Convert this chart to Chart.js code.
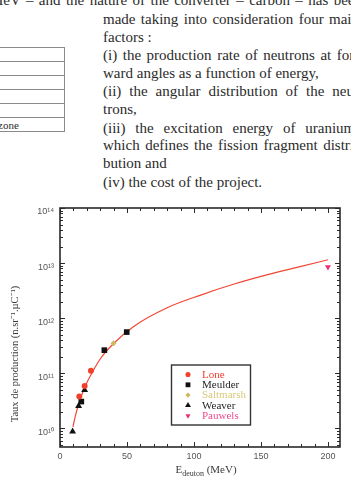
<!DOCTYPE html>
<html>
<head>
<meta charset="utf-8">
<script src="https://cdn.jsdelivr.net/npm/chart.js@4.4.0/dist/chart.umd.min.js"></script>
<style>
html, body { margin: 0; padding: 0; background: #fff; }
body { width: 351px; height: 479px; position: relative; overflow: hidden; font-family: 'Liberation Serif', serif; color: #2b2b2b; }
.ln { position: absolute; left: 103px; font-size: 15px; line-height: 18px; white-space: nowrap; }
.j { width: 256px; height: 18px; overflow: hidden; white-space: normal; text-align: justify; text-align-last: justify; }
#tbl { position: absolute; left: -3px; top: 47px; width: 68px; border-collapse: collapse; }
#tbl td { border: 1px solid #8a8a8a; height: 13px; padding: 0; font-size: 11px; line-height: 12px; }
#chartBox { position: absolute; left: 0; top: 195px; width: 351px; height: 284px; }
</style>
</head>
<body>
<div class="ln j" style="left:-10px; top:-9px; width:372px;">MeV – and the nature of the converter – carbon – has been</div>
<div class="ln j" style="top:10px;">made taking into consideration four main</div>
<div class="ln" style="top:28px;">factors :</div>
<div class="ln j" style="top:46px;">(i) the production rate of neutrons at for-</div>
<div class="ln" style="top:64px;">ward angles as a function of energy,</div>
<div class="ln j" style="top:82px;">(ii) the angular distribution of the neu-</div>
<div class="ln" style="top:100px;">trons,</div>
<div class="ln j" style="top:119px;">(iii) the excitation energy of uranium,</div>
<div class="ln j" style="top:136px;">which defines the fission fragment distri-</div>
<div class="ln" style="top:154px;">bution and</div>
<div class="ln" style="top:173px;">(iv) the cost of the project.</div>

<table id="tbl">
  <tr><td></td></tr>
  <tr><td></td></tr>
  <tr><td></td></tr>
  <tr><td></td></tr>
  <tr><td></td></tr>
  <tr><td>zone</td></tr>
</table>

<div id="chartBox"><canvas id="prodChart" width="351" height="284"></canvas></div>

<script>
// Neutron production rate vs deuteron energy

// Lone
const loneE = [14.4, 18.4, 23.1];
const loneRate = [3.8e10, 5.9e10, 1.11e11];
// Meulder
const meulderE = [15.9, 33.1, 49.8];
const meulderRate = [3.07e10, 2.63e11, 5.6e11];
// Saltmarsh
const saltE = [40.0];
const saltRate = [3.5e11];
// Weaver
const weaverE = [9.4, 13.9, 18.4];
const weaverRate = [8.8e9, 2.56e10, 5.0e10];
// Pauwels
const pauwelsE = [200];
const pauwelsRate = [8.5e12];

// fitted curve
const fitE = [9.7, 11.4, 15.1, 18.9, 23.9, 30, 40, 55, 80, 105, 130, 155, 180, 200];
const fitRate = [1.07e10, 1.66e10, 3.4e10, 5.9e10, 1.02e11, 1.82e11, 3.47e11, 7.1e11, 1.55e12, 2.63e12, 4.17e12, 6.17e12, 8.7e12, 1.15e13];

const seriesNames = ['Lone', 'Meulder', 'Saltmarsh', 'Weaver', 'Pauwels'];

// axis ticks
const xTicks = [0, 50, 100, 150, 200];
const yTicks = [1e10, 1e11, 1e12, 1e13, 1e14];

const xMin = 0, xMax = 209;
const yMin = 4.6e9, yMax = 1e14;

const supDigits = { '0': '⁰', '1': '¹', '2': '²', '3': '³', '4': '⁴', '5': '⁵', '6': '⁶', '7': '⁷', '8': '⁸', '9': '⁹' };
function sup(n) {
    return String(n).split('').map(c => supDigits[c]).join('');
}

function toPoints(xs, ys) {
    return xs.map((x, i) => ({ x: x, y: ys[i] }));
}

const legendTextColors = ['#f2402e', '#1e1e1e', '#d9c87a', '#1e1e1e', '#ee4a8c'];

// frame with inward ticks on all four sides
const frameTicks = {
    id: 'frameTicks',
    afterDatasetsDraw(chart) {
        const { ctx, chartArea: a, scales: { x, y } } = chart;
        ctx.save();
        ctx.strokeStyle = '#2a2a2a';
        ctx.lineWidth = 1;
        ctx.beginPath();
        for (let v = 0; v <= xMax; v += 10) {
            const px = Math.round(x.getPixelForValue(v)) + 0.5;
            const len = v % 50 === 0 ? 5 : 3;
            ctx.moveTo(px, a.bottom); ctx.lineTo(px, a.bottom - len);
            ctx.moveTo(px, a.top); ctx.lineTo(px, a.top + len);
        }
        for (let d = 9; d <= 14; d++) {
            for (let m = 1; m <= 9; m++) {
                const v = m * Math.pow(10, d);
                if (v < yMin || v > yMax) continue;
                const py = Math.round(y.getPixelForValue(v)) + 0.5;
                const len = m === 1 ? 5 : 3;
                ctx.moveTo(a.left, py); ctx.lineTo(a.left + len, py);
                ctx.moveTo(a.right, py); ctx.lineTo(a.right - len, py);
            }
        }
        ctx.stroke();
        ctx.lineWidth = 1.6;
        ctx.strokeRect(a.left, a.top, a.right - a.left, a.bottom - a.top);
        ctx.restore();
    }
};

// legend box inside the plot + axis titles
const annotations = {
    id: 'annotations',
    afterDraw(chart) {
        const { ctx, chartArea: a } = chart;
        ctx.save();

        // legend
        const bx = a.left + 111.5, by = a.top + 157, bw = 79, bh = 60;
        ctx.strokeStyle = '#333';
        ctx.lineWidth = 1.4;
        ctx.strokeRect(bx, by, bw, bh);
        ctx.font = '11px "Liberation Serif"';
        ctx.textBaseline = 'middle';
        ctx.textAlign = 'left';
        seriesNames.forEach((name, i) => {
            const ds = chart.data.datasets[i];
            const ry = by + 9.5 + i * 10.3;
            ctx.fillStyle = ds.backgroundColor;
            ctx.strokeStyle = ds.borderColor;
            Chart.helpers.drawPoint(ctx, {
                pointStyle: ds.pointStyle,
                radius: ds.pointRadius * 0.85,
                rotation: ds.pointRotation || 0,
                borderWidth: 0
            }, bx + 16.5, ry);
            ctx.fillStyle = legendTextColors[i];
            ctx.fillText(name, bx + 30.5, ry + 0.5);
        });

        // y title
        ctx.fillStyle = '#3a3a3a';
        ctx.font = '10.5px "Liberation Serif"';
        ctx.textAlign = 'center';
        ctx.translate(15, 159);
        ctx.rotate(-Math.PI / 2);
        ctx.fillText('Taux de production (n.sr⁻¹.µC⁻¹)', 0, 0);
        ctx.setTransform(1, 0, 0, 1, 0, 0);

        // x title: E_deuton (MeV)
        ctx.textAlign = 'left';
        ctx.textBaseline = 'alphabetic';
        const parts = [['E', 11, 0], ['deuton', 8, 3], [' (MeV)', 11, 0]];
        let total = 0;
        parts.forEach(p => { ctx.font = p[1] + 'px "Liberation Serif"'; total += ctx.measureText(p[0]).width; });
        let tx = 206 - total / 2;
        parts.forEach(p => {
            ctx.font = p[1] + 'px "Liberation Serif"';
            ctx.fillText(p[0], tx, 278 + p[2]);
            tx += ctx.measureText(p[0]).width;
        });
        ctx.restore();
    }
};

const ctx = document.getElementById('prodChart');

new Chart(ctx, {
    type: 'scatter',
    data: {
        datasets: [
            {
                label: seriesNames[0],
                data: toPoints(loneE, loneRate),
                pointStyle: 'circle',
                pointRadius: 3,
                backgroundColor: '#f2402e',
                borderColor: '#f2402e',
                borderWidth: 0
            },
            {
                label: seriesNames[1],
                data: toPoints(meulderE, meulderRate),
                pointStyle: 'rect',
                pointRadius: 4,
                backgroundColor: '#111',
                borderColor: '#111',
                borderWidth: 0
            },
            {
                label: seriesNames[2],
                data: toPoints(saltE, saltRate),
                pointStyle: 'rectRot',
                pointRadius: 3,
                backgroundColor: '#cdb760',
                borderColor: '#cdb760',
                borderWidth: 0
            },
            {
                label: seriesNames[3],
                data: toPoints(weaverE, weaverRate),
                pointStyle: 'triangle',
                pointRadius: 4,
                backgroundColor: '#111',
                borderColor: '#111',
                borderWidth: 0
            },
            {
                label: seriesNames[4],
                data: toPoints(pauwelsE, pauwelsRate),
                pointStyle: 'triangle',
                pointRotation: 180,
                pointRadius: 3.5,
                backgroundColor: '#e8307a',
                borderColor: '#e8307a',
                borderWidth: 0
            },
            {
                label: 'fit',
                data: toPoints(fitE, fitRate),
                showLine: true,
                pointRadius: 0,
                borderColor: '#f04634',
                borderWidth: 1.2,
                cubicInterpolationMode: 'monotone',
                fill: false
            }
        ]
    },
    options: {
        responsive: false,
        devicePixelRatio: 1,
        animation: false,
        layout: {
            padding: { top: 13, right: 11, left: 0, bottom: 0 }
        },
        plugins: {
            legend: { display: false },
            tooltip: { enabled: false },
            title: { display: false }
        },
        scales: {
            x: {
                type: 'linear',
                min: xMin,
                max: xMax,
                afterBuildTicks: scale => { scale.ticks = xTicks.map(v => ({ value: v })); },
                afterFit: scale => { scale.height = 32; },
                grid: { display: false, drawTicks: false },
                border: { display: false },
                ticks: {
                    color: '#555',
                    padding: 4,
                    maxRotation: 0,
                    font: { family: 'Liberation Sans', size: 9 }
                }
            },
            y: {
                type: 'logarithmic',
                min: yMin,
                max: yMax,
                afterBuildTicks: scale => { scale.ticks = yTicks.map(v => ({ value: v })); },
                afterFit: scale => { scale.width = 60; },
                grid: { display: false, drawTicks: false },
                border: { display: false },
                ticks: {
                    color: '#555',
                    padding: 6,
                    labelOffset: 4,
                    font: { family: 'Liberation Sans', size: 9 },
                    callback: function(value) {
                        return '10' + sup(Math.round(Math.log10(value)));
                    }
                }
            }
        }
    },
    plugins: [frameTicks, annotations]
});
</script>
</body>
</html>
